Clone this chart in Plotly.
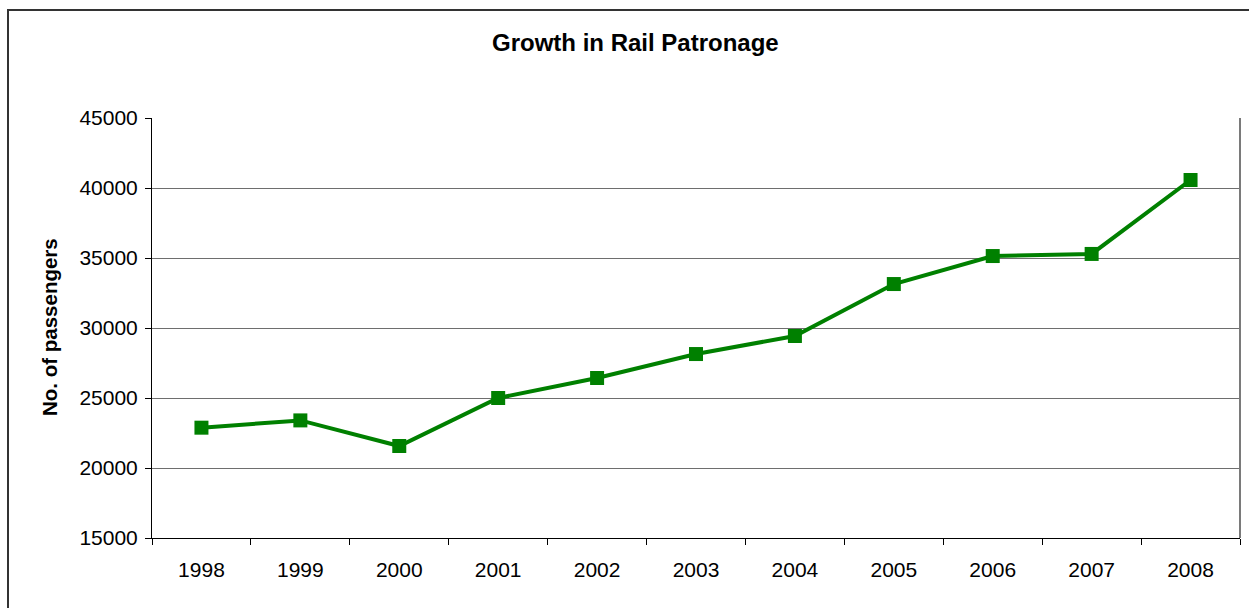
import plotly.graph_objects as go

# Annual rail patronage
years = ["1998", "1999", "2000", "2001", "2002", "2003",
         "2004", "2005", "2006", "2007", "2008"]
passengers = [22880, 23400, 21570, 25000, 26430, 28140,
              29430, 33140, 35140, 35290, 40570]

y_ticks = [15000, 20000, 25000, 30000, 35000, 40000, 45000]

W, H = 1249, 608
L, R, T, B = 152, 9, 118, 70
pw, ph = W - L - R, H - T - B

fig = go.Figure()
fig.add_trace(go.Scatter(
    x=years, y=passengers, mode="lines+markers",
    line=dict(color="#008000", width=4),
    marker=dict(symbol="square", size=14, color="#008000"),
    showlegend=False,
))

font_family = "Liberation Sans, Arial, sans-serif"

fig.update_layout(
    width=W, height=H,
    margin=dict(l=L, r=R, t=T, b=B, pad=0),
    paper_bgcolor="white", plot_bgcolor="white",
    font=dict(family=font_family, size=21, color="black"),
    xaxis=dict(
        type="category", tickson="boundaries", range=[-0.5, len(years) - 0.5],
        showgrid=False, showline=True, linecolor="black", linewidth=1,
        ticks="outside", ticklen=6, tickcolor="black", tickwidth=1,
        ticklabelstandoff=13,
        tickfont=dict(size=21), zeroline=False,
    ),
    yaxis=dict(
        range=[15000, 45000], tickvals=y_ticks,
        ticktext=[str(v) for v in y_ticks],
        showgrid=True, gridcolor="#6e6e6e", gridwidth=1,
        showline=True, linecolor="black", linewidth=1,
        ticks="outside", ticklen=6, tickcolor="black",
        ticklabelstandoff=3,
        tickfont=dict(size=21), zeroline=False,
    ),
    annotations=[
        dict(text="<b>Growth in Rail Patronage</b>", xref="paper", yref="paper",
             x=(635 - L) / pw, y=(H - B - 43) / ph, xanchor="center", yanchor="middle",
             showarrow=False, font=dict(size=24, family=font_family)),
        dict(text="<b>No. of passengers</b>", xref="paper", yref="paper",
             x=(49 - L) / pw, y=(H - B - 327) / ph, xanchor="center", yanchor="middle",
             textangle=-90, showarrow=False, font=dict(size=20.5, family=font_family)),
    ],
    shapes=[
        # outer chart frame (runs past the right and bottom edges of the page)
        dict(type="rect", xref="paper", yref="paper",
             x0=(8 - L) / pw, x1=(1270 - L) / pw,
             y0=(H - B - 640) / ph, y1=(H - B - 10) / ph,
             line=dict(color="#333333", width=2), fillcolor="rgba(0,0,0,0)", layer="below"),
        # right edge of plot area
        dict(type="line", xref="paper", yref="paper", x0=1, x1=1, y0=0, y1=1,
             line=dict(color="#7a7a7a", width=2)),
    ],
)

fig.write_html("out.html")
